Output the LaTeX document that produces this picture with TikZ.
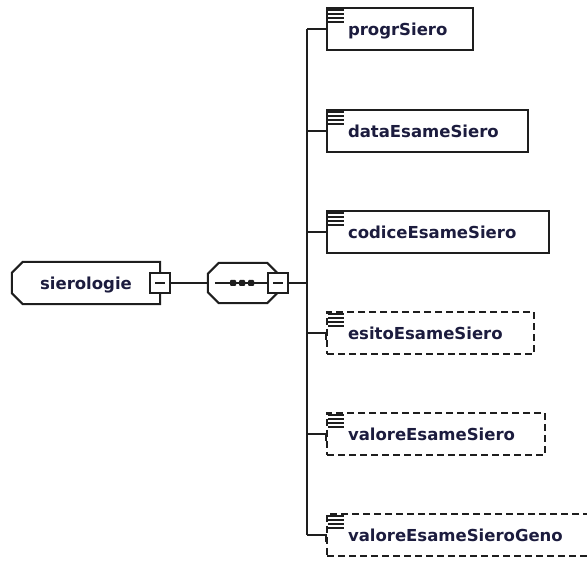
\documentclass[tikz,border=0pt]{standalone}
\usepackage{fontspec}
\setmainfont{DejaVu Sans}
\definecolor{nametext}{RGB}{28,28,62}
\definecolor{edgegray}{RGB}{30,30,30}
\usetikzlibrary{positioning}

\tikzset{
  outline/.style={draw=edgegray, line width=2pt, fill=white},
  conn/.style={draw=edgegray, line width=2pt},
  namefont/.style={font=\bfseries\fontsize{16.5}{18}\selectfont, text=nametext,
    text height=12.5pt, text depth=0pt},
  elem/.style={outline, namefont, minimum height=42pt, inner xsep=21pt, inner ysep=0pt,
    align=left, anchor=west},
  optelem/.style={elem, dash pattern=on 7pt off 4pt},
  expbox/.style={draw=edgegray, line width=2pt, fill=white, minimum size=20pt, inner sep=0pt,
    path picture={\draw[edgegray, line width=1.2pt]
      ([xshift=5pt]path picture bounding box.west) -- ([xshift=-5pt]path picture bounding box.east);}}
}

% little text lines in the corner of an element box
\newcommand{\docicon}[1]{%
  \foreach \dy in {3,7,11,15}
    \draw[edgegray, line width=2pt] ([xshift=2pt,yshift=-\dy pt]#1.north west) -- ++(16,0);}

\begin{document}
\begin{tikzpicture}[x=1pt, y=-1pt]
  \useasboundingbox (0,0) rectangle (587,561);
  \clip (0,0) rectangle (587,561);

  % Root element
  \node[minimum width=148pt, minimum height=42pt, inner sep=0pt] (siero) at (86,283) {};
  \draw[outline] ([xshift=11pt]siero.north west) -- (siero.north east) -- (siero.south east)
    -- ([xshift=11pt]siero.south west) -- ([yshift=11pt]siero.south west)
    -- ([yshift=-11pt]siero.north west) -- cycle;
  \node[namefont, inner sep=0pt] (sierolabel) at (siero.center) {sierologie};
  \node[expbox] (sieroexp) at (siero.east) {};

  % Sequence compositor
  \node[minimum width=70pt, minimum height=40pt, inner sep=0pt] (seq) at (243,283) {};
  \draw[outline] ([xshift=11pt]seq.north west) -- ([xshift=-11pt]seq.north east)
    -- ([yshift=-11pt]seq.north east) -- ([yshift=11pt]seq.south east)
    -- ([xshift=-11pt]seq.south east) -- ([xshift=11pt]seq.south west)
    -- ([yshift=11pt]seq.south west) -- ([yshift=-11pt]seq.north west) -- cycle;
  \node[expbox] (seqexp) at (seq.east) {};
  \draw[edgegray, line width=1.4pt] ([xshift=7pt]seq.west) -- (seqexp.west);
  \foreach \dx in {-10,-1,8}
    \fill[edgegray, rounded corners=1pt] ([xshift=\dx pt-3pt,yshift=-3pt]seq.center)
      rectangle ([xshift=\dx pt+3pt,yshift=3pt]seq.center);

  \coordinate (trunk) at (307,283);
  \draw[conn] (sieroexp.east) -- (seq.west);
  \draw[conn] (seqexp.east) -- (trunk);

  % Child elements
  \node[elem, text width=104pt] (progr) at (326,29) {progrSiero};
  \node[elem, text width=159pt] (data) at (326,131) {dataEsameSiero};
  \node[elem, text width=180pt] (codice) at (326,232) {codiceEsameSiero};
  \node[optelem, text width=165pt] (esito) at (326,333) {esitoEsameSiero};
  \node[optelem, text width=176pt] (valore) at (326,434) {valoreEsameSiero};
  \node[optelem, text width=228pt] (geno) at (326,535) {valoreEsameSieroGeno};
  \foreach \n in {progr,data,codice,esito,valore,geno}
    \docicon{\n};

  % Connectors
  \draw[conn] (trunk |- progr.west) -- (trunk |- geno.west);
  \foreach \n in {progr,data,codice}
    \draw[conn] (trunk |- \n.west) -- (\n.west);
  \foreach \n in {esito,valore,geno}
    \draw[conn] (trunk |- \n.west) -- (\n.west) -- ++(0,7);
\end{tikzpicture}
\end{document}
